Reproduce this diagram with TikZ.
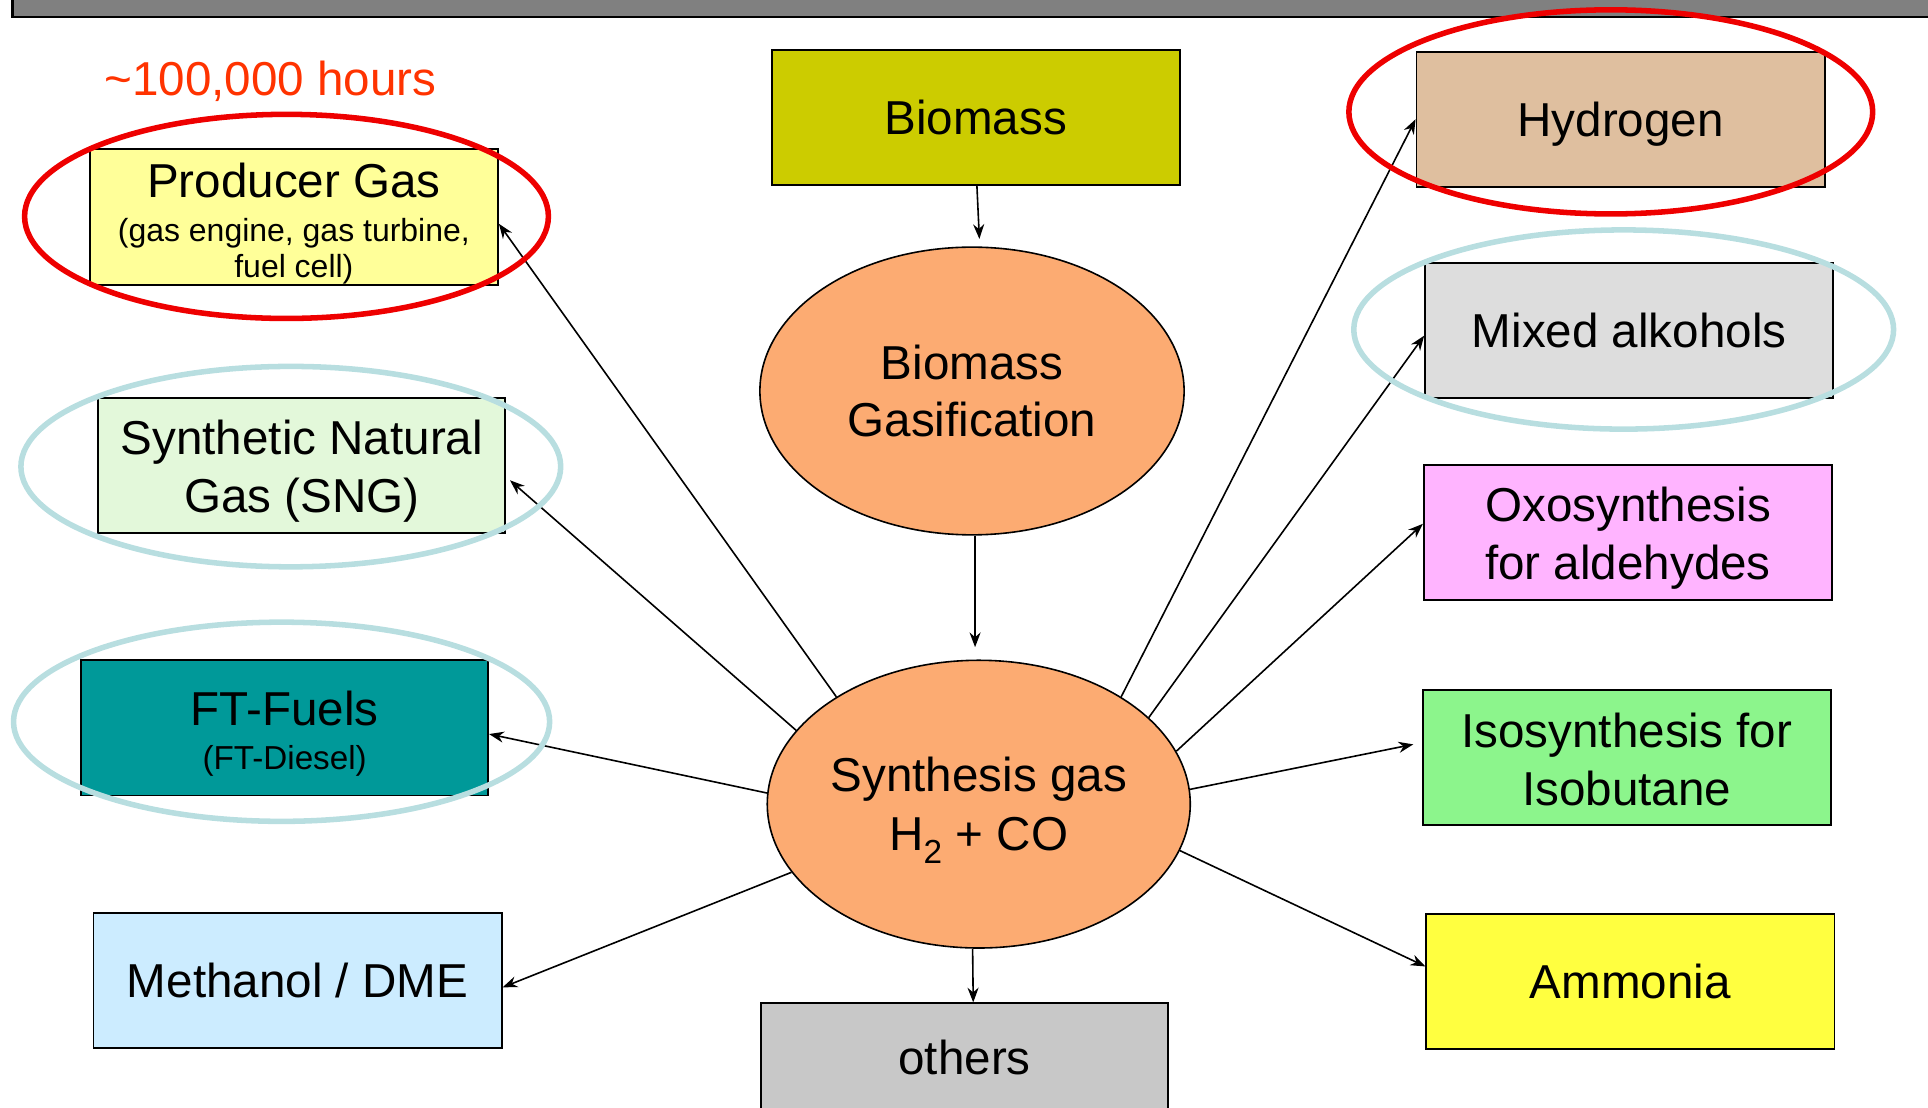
\documentclass[tikz,border=0pt]{standalone}
\usepackage{fontspec}
\setmainfont{Liberation Sans}
\usetikzlibrary{shapes.geometric,arrows.meta}
\definecolor{barg}{HTML}{808080}
\definecolor{hoursc}{HTML}{FF3300}
\definecolor{prodc}{HTML}{FFFF99}
\definecolor{bioc}{HTML}{CCCC00}
\definecolor{ovalc}{HTML}{FCAB72}
\definecolor{hydc}{HTML}{DFBF9F}
\definecolor{mixc}{HTML}{DDDDDD}
\definecolor{oxoc}{HTML}{FFB4FF}
\definecolor{isoc}{HTML}{8CF58C}
\definecolor{ammc}{HTML}{FFFF40}
\definecolor{othc}{HTML}{C8C8C8}
\definecolor{sngc}{HTML}{E3F8DA}
\definecolor{ftc}{HTML}{009999}
\definecolor{methc}{HTML}{CCECFF}
\definecolor{ringred}{HTML}{EE0000}
\definecolor{ringblue}{HTML}{B8DEE0}
\newcommand\bigfnt{\fontsize{38.7}{47}\selectfont}
\newcommand\subfnt{\fontsize{26}{29}\selectfont}
\newcommand\ftsubfnt{\fontsize{27}{29}\selectfont}
\newcommand\topstrut[1]{\rule{0pt}{#1}}
\begin{document}
\begin{tikzpicture}[x=1pt,y=1pt,
  box/.style={draw=black,line width=1.5pt,minimum width=332pt,minimum height=110pt,inner sep=0pt,align=center,font=\bigfnt},
  oval/.style={ellipse,draw=black,line width=1.3pt,fill=ovalc,inner sep=0pt,align=center,font=\bigfnt},
  arr/.style={line width=1.3pt,-{Stealth[length=12pt,width=9pt]}},
  ring/.style={line width=4.5pt}]
\useasboundingbox (0,0) rectangle (1568,901);
\clip (0,0) rectangle (1568,901);
% top bar
\draw[fill=barg,line width=2pt] (10,887) rectangle (1600,930);
% label
\node[text=hoursc,font=\fontsize{38.7}{47}\selectfont] (hours) at (220,835) {\textasciitilde 100,000 hours};
% boxes
\node[box,fill=prodc,font=\subfnt] (prod) at (239,724.5) {{\bigfnt\topstrut{38pt}Producer Gas}\\[7pt](gas engine, gas turbine,\\fuel cell)};
\node[box,fill=bioc] (bio) at (793.5,805.5) {Biomass};
\node[oval,minimum width=345pt,minimum height=234pt] (gas) at (790.5,583) {Biomass\\Gasification};
\node[oval,minimum width=344pt,minimum height=234pt] (syn) at (796,247) {\topstrut{38pt}Synthesis gas\\[1pt]H\textsubscript{2} + CO};
\node[box,fill=othc,minimum width=331pt,minimum height=88pt] (oth) at (784.5,41) {others};
\node[box,fill=hydc,text depth=0pt] (hyd) at (1318,804) {Hydrogen};
\node[box,fill=mixc] (mix) at (1325,632) {Mixed alkohols};
\node[box,fill=oxoc] (oxo) at (1324,468) {\topstrut{38pt}Oxosynthesis\\for aldehydes};
\node[box,fill=isoc] (iso) at (1323,285) {\topstrut{32pt}Isosynthesis for\\Isobutane};
\node[box,fill=ammc] (amm) at (1326,103) {Ammonia};
\node[box,fill=sngc,minimum width=331pt] (sng) at (245.5,522.5) {\topstrut{38pt}Synthetic Natural\\Gas (SNG)};
\node[box,fill=ftc,minimum width=331pt,font=\ftsubfnt] (ft) at (231.5,309) {{\bigfnt\topstrut{38pt}FT-Fuels}\\[7pt](FT-Diesel)};
\node[box,fill=methc] (meth) at (242,103.5) {Methanol / DME};
% connectors
\draw[arr] ([xshift=1pt]bio.south) -- ([xshift=6pt,yshift=6pt]gas.north);
\draw[arr,shorten >=10pt] ([xshift=2.5pt]gas.south) -- ([xshift=-3pt]syn.north);
\draw[arr] ([xshift=-5pt]syn.south) -- ([xshift=7pt]oth.north);
\draw[arr] (syn.143) -- ([yshift=-5.5pt]prod.east);
\draw[arr,shorten >=4pt] (syn.158) -- ([yshift=-9.5pt]sng.east);
\draw[arr] (syn.177) -- ([yshift=-5pt]ft.east);
\draw[arr] (syn.200) -- ([yshift=-5.5pt]meth.east);
\draw[arr] (syn.37) -- (hyd.west);
\draw[arr] (syn.27) -- ([yshift=-4pt]mix.west);
\draw[arr] (syn.15.5) -- ([yshift=7pt]oxo.west);
\draw[arr,shorten >=7pt] (syn.4) -- ([yshift=12pt]iso.west);
\draw[arr] (syn.347) -- ([yshift=12pt]amm.west);
% highlight rings
\draw[ring,ringred] (233,725) ellipse [x radius=213, y radius=83];
\draw[ring,ringred] (1310,810) ellipse [x radius=213, y radius=83];
\draw[ring,ringblue] (1320.5,633) ellipse [x radius=219.5, y radius=81];
\draw[ring,ringblue] (236.5,521.5) ellipse [x radius=219.5, y radius=81.5];
\draw[ring,ringblue] (229,314) ellipse [x radius=218, y radius=81];
\end{tikzpicture}
\end{document}
